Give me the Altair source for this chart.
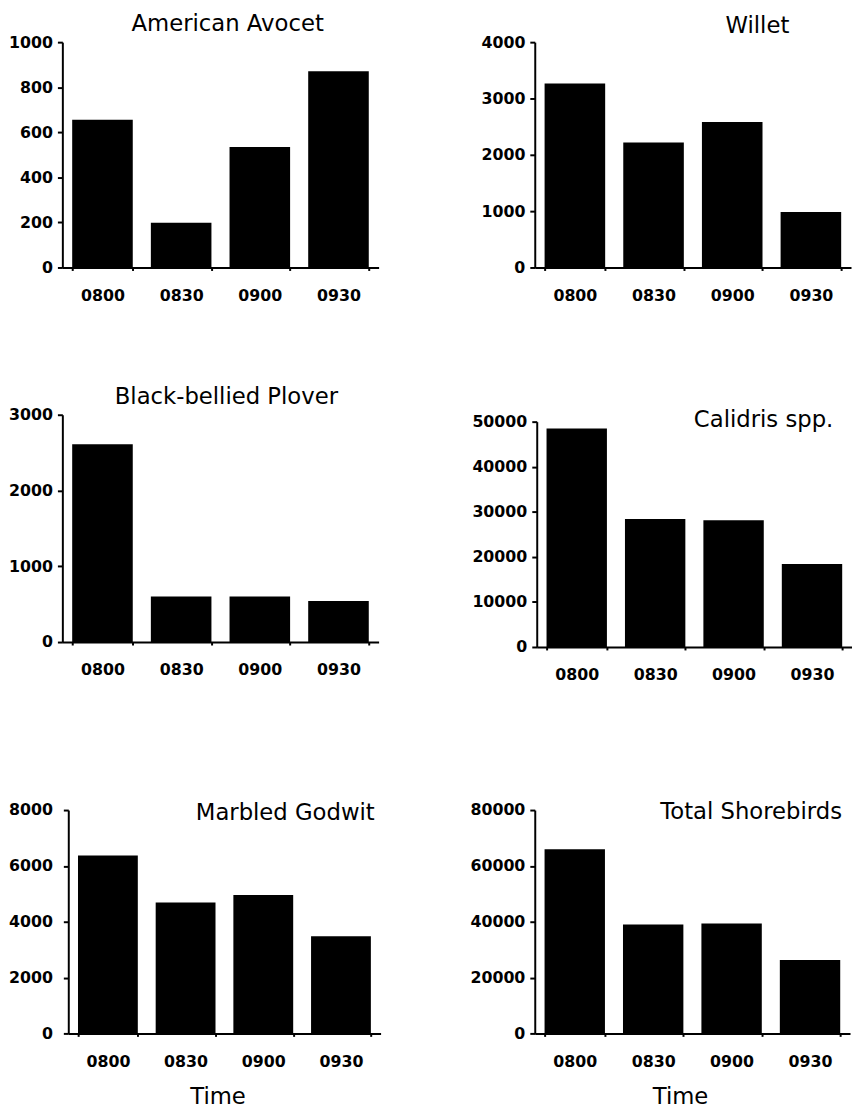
import altair as alt
import pandas as pd

times = ["0800", "0830", "0900", "0930"]

avocet = [656, 199, 535, 871]
willet = [3264, 2218, 2581, 987]
plover = [2609, 600, 600, 543]
calidris = [48500, 28400, 28100, 18400]
godwit = [6370, 4690, 4960, 3480]
total = [66000, 39000, 39400, 26300]

ticks_avocet = [0, 200, 400, 600, 800, 1000]
ticks_willet = [0, 1000, 2000, 3000, 4000]
ticks_plover = [0, 1000, 2000, 3000]
ticks_calidris = [0, 10000, 20000, 30000, 40000, 50000]
ticks_godwit = [0, 2000, 4000, 6000, 8000]
ticks_total = [0, 20000, 40000, 60000, 80000]

FONT = "DejaVu Sans"


def panel(name, values, ticks, w, h, tdx, tdy, time_title=False, title_x=0,
          xrange=None, yrange=None, y_offset=0, ylp=5):
    df = pd.DataFrame({"time": times, "count": values})
    common = dict(
        labelAngle=0, tickBand="extent", tickSize=3, tickWidth=2, tickColor="black",
        domainWidth=2, domainColor="black", labelFont=FONT, labelFontSize=16,
        labelFontWeight="bold", labelColor="black", labelPadding=17, grid=False,
    )
    if time_title:
        xaxis = alt.Axis(titleFont=FONT, titleFontSize=23, titleFontWeight="normal",
                         titleColor="black", titlePadding=17, titleX=title_x, **common)
    else:
        xaxis = alt.Axis(**common)
    xs = dict(paddingInner=0.23, paddingOuter=0.125)
    if xrange is not None:
        xs["range"] = xrange
    ys = dict(domain=[0, ticks[-1]], nice=False)
    if yrange is not None:
        ys["range"] = yrange
    yaxis = dict(values=ticks, format="d", tickSize=5, tickWidth=2,
                 tickColor="black", domainWidth=2, domainColor="black",
                 labelFont=FONT, labelFontSize=16, labelFontWeight="bold",
                 labelColor="black", labelPadding=ylp, grid=False)
    if y_offset:
        yaxis["offset"] = y_offset
    return alt.Chart(
        df,
        title=alt.TitleParams(
            text=name, anchor="start", frame="group", dx=tdx, dy=tdy, offset=0,
            font=FONT, fontSize=23, fontWeight="normal", color="black",
            baseline="alphabetic",
        ),
    ).mark_bar(color="black").encode(
        x=alt.X("time:N", sort=times, title="Time" if time_title else None,
                scale=alt.Scale(**xs), axis=xaxis),
        y=alt.Y("count:Q", title=None, scale=alt.Scale(**ys), axis=alt.Axis(**yaxis)),
    ).properties(width=w, height=h)


p1 = panel("American Avocet", avocet, ticks_avocet, 320, 228, 70, 20)
p2 = panel("Willet", willet, ticks_willet, 320, 228, 193, 22)
p3 = panel("Black-bellied Plover", plover, ticks_plover, 320, 230, 53, 20)
p4 = panel("Calidris spp.", calidris, ticks_calidris, 319, 235, 159, 36,
           yrange=[235, 7])
p5 = panel("Marbled Godwit", godwit, ticks_godwit, 325, 226, 135, 41, True, 157,
           xrange=[6, 322], y_offset=-6, ylp=11)
p6 = panel("Total Shorebirds", total, ticks_total, 319, 226, 127, 40, True, 147)

row1 = alt.hconcat(p1, p2, spacing=158, bounds="flush")
row2 = alt.hconcat(p3, p4, spacing=160, bounds="flush")
row3 = alt.hconcat(p5, p6, spacing=153, bounds="flush")

top = alt.vconcat(row1, row2, spacing=84)
chart = alt.vconcat(top, row3, spacing=120).properties(
    padding={"left": 0, "top": -1, "right": 0, "bottom": 0}, background="white"
).configure_view(stroke=None)

chart.save("out.html", embed_options={"renderer": "svg", "actions": False})
